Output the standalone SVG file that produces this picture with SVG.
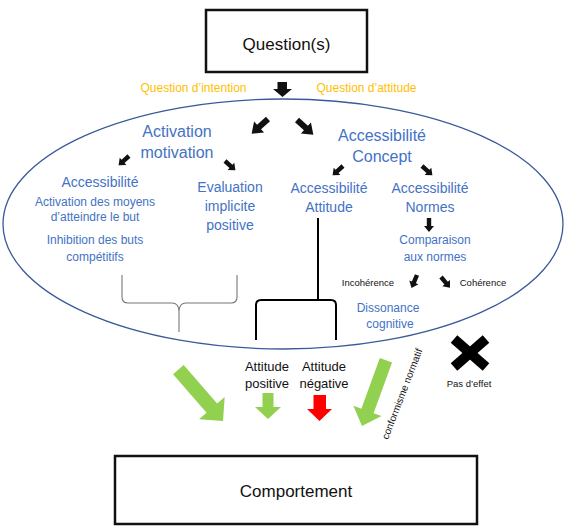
<svg xmlns="http://www.w3.org/2000/svg" xmlns:xlink="http://www.w3.org/1999/xlink" width="567" height="531" viewBox="0 0 567 531">
<style>
text{font-family:"Liberation Sans",Arial,sans-serif;text-anchor:middle}
.blue{fill:#4472C4}
.orange{fill:#FFC000;font-size:12px}
.blk{fill:#111}
.box{fill:#fff;stroke:#111;stroke-width:2.5}
.green{fill:#92D050}
.red{fill:#FF0000}
</style>
<defs>
<path id="aL" d="M0,-3 H12 V-7.5 L22,0 L12,7.5 V3 H0 Z" fill="#111"/>
<path id="aS" d="M0,-2.2 H8 V-5 L14,0 L8,5 V2.2 H0 Z" fill="#111"/>
</defs>
<rect width="567" height="531" fill="#fff"/>

<g id="question">
<rect class="box" x="206" y="10" width="161" height="62"/>
<text x="286.5" y="50" font-size="17" class="blk">Question(s)</text>
</g>
<g id="labels-question">
<text class="orange" x="193.5" y="91.5">Question d’intention</text>
<text class="orange" x="366.5" y="91.5">Question d’attitude</text>
</g>

<g id="ellipse">
<ellipse cx="283" cy="224" rx="280" ry="125" fill="none" stroke="#3B5A9A" stroke-width="1.3"/>
</g>

<g id="activation-motivation" class="blue">
<text x="177" y="137" font-size="16">Activation</text>
<text x="177" y="158" font-size="16">motivation</text>
</g>
<g id="accessibilite-concept" class="blue">
<text x="382" y="141" font-size="16">Accessibilité</text>
<text x="382" y="162" font-size="16">Concept</text>
</g>
<g id="accessibilite-but" class="blue">
<text x="100" y="187" font-size="14">Accessibilité</text>
<text x="95" y="206" font-size="12">Activation des moyens</text>
<text x="95" y="221" font-size="12">d’atteindre le but</text>
<text x="95" y="244" font-size="12">Inhibition des buts</text>
<text x="95" y="261" font-size="12">compétitifs</text>
</g>
<g id="evaluation" class="blue">
<text x="230" y="192" font-size="14">Evaluation</text>
<text x="230" y="211" font-size="14">implicite</text>
<text x="230" y="230" font-size="14">positive</text>
</g>
<g id="accessibilite-attitude" class="blue">
<text x="329" y="193" font-size="14">Accessibilité</text>
<text x="329" y="212" font-size="14">Attitude</text>
</g>
<g id="accessibilite-normes" class="blue">
<text x="430" y="193" font-size="14">Accessibilité</text>
<text x="430" y="212" font-size="14">Normes</text>
</g>
<g id="comparaison" class="blue">
<text x="435" y="244" font-size="12">Comparaison</text>
<text x="435" y="261" font-size="12">aux normes</text>
</g>
<g id="incoherence"><text class="blk" x="368" y="286" font-size="9.5">Incohérence</text></g>
<g id="coherence"><text class="blk" x="483" y="286" font-size="9.5">Cohérence</text></g>
<g id="dissonance" class="blue">
<text x="388" y="312" font-size="12">Dissonance</text>
<text x="390" y="328" font-size="12">cognitive</text>
</g>
<g id="attitude-positive" class="blk">
<text x="267" y="371" font-size="13">Attitude</text>
<text x="267" y="388" font-size="13">positive</text>
</g>
<g id="attitude-negative" class="blk">
<text x="324" y="371" font-size="13">Attitude</text>
<text x="324" y="388" font-size="13">négative</text>
</g>
<g id="pas-effet">
<line x1="454" y1="339" x2="486" y2="367" stroke="#000" stroke-width="10"/>
<line x1="486" y1="339" x2="454" y2="367" stroke="#000" stroke-width="10"/>
<text class="blk" x="469" y="387" font-size="9.5">Pas d’effet</text>
</g>
<g id="comportement">
<rect class="box" x="115" y="456" width="362" height="68"/>
<text x="296" y="497" font-size="17" class="blk">Comportement</text>
</g>

<g id="connectors">
<path d="M277.5,82 H287 V89 H292 L282.5,97 L273,89 H277.5 Z" fill="#111"/>
<use xlink:href="#aL" transform="translate(268,119) rotate(138)"/>
<use xlink:href="#aL" transform="translate(297,120) rotate(42)"/>
<use xlink:href="#aS" transform="translate(129,156) rotate(138)"/>
<use xlink:href="#aS" transform="translate(225,161) rotate(42)"/>
<use xlink:href="#aS" transform="translate(343,166) rotate(138)"/>
<use xlink:href="#aS" transform="translate(422,166) rotate(42)"/>
<use xlink:href="#aS" transform="translate(429,218) rotate(90)"/>
<use xlink:href="#aS" transform="translate(417,275) rotate(113)"/>
<use xlink:href="#aS" transform="translate(441,277) rotate(50)"/>
<path d="M122,275 V297 Q122,303 128,303 H172 Q178.5,303 179,311 V332 M179,311 Q179.5,303 186,303 H231 Q237,303 237,297 V275" fill="none" stroke="#777" stroke-width="1.1"/>
<path d="M256,340 V305 Q256,300 261,300 H331 Q336,300 336,305 V340 M318,218 V300" fill="none" stroke="#000" stroke-width="2"/>
<path class="green" transform="translate(223,421) rotate(49)" d="M-68,-7 H-17 V-17 L0,0 L-17,17 V7 H-68 Z"/>
<path class="green" transform="translate(362,426) rotate(110)" d="M-70,-6.5 H-16 V-15 L0,0 L-16,15 V6.5 H-70 Z"/>
<path class="green" d="M262.5,393 H273.5 V407 H281 L268,419 L255,407 H262.5 Z"/>
<path class="red" d="M313.5,395 H326 V409 H332 L319.5,421 L307,409 H313.5 Z"/>
<text class="blk" transform="translate(388,440) rotate(-69)" font-size="10" style="text-anchor:start">conformisme normatif</text>
</g>
</svg>
